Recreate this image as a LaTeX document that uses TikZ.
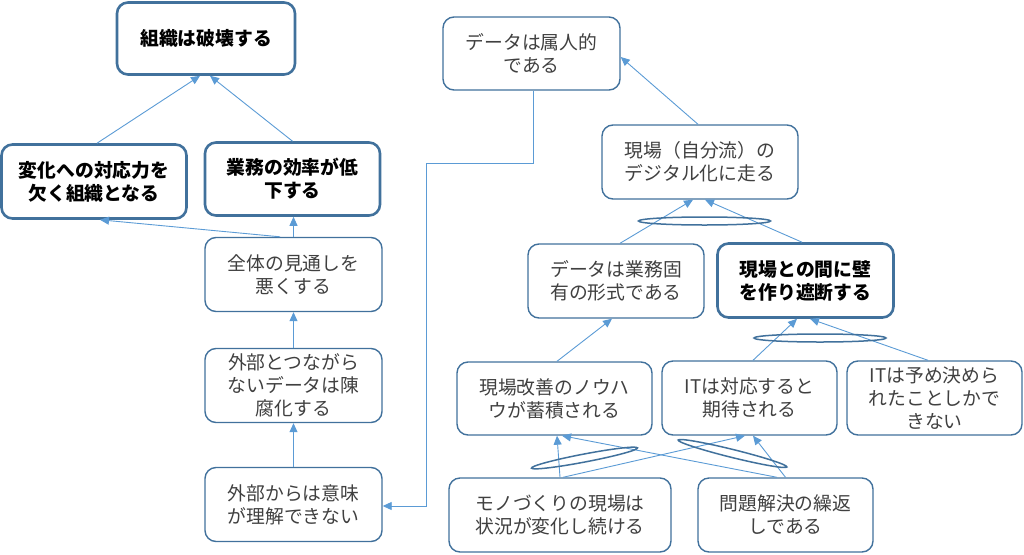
\documentclass[tikz,border=0pt]{standalone}
\usepackage{fontspec}
\setmainfont{Noto Sans CJK JP}
\usetikzlibrary{arrows.meta}
\definecolor{bord}{HTML}{41719C}
\definecolor{arr}{HTML}{5B9BD5}
\definecolor{txt}{HTML}{404040}
\begin{document}
\begin{tikzpicture}[x=1pt,y=-1pt,
  box/.style={draw=bord, line width=1.4pt, rounded corners=11pt, fill=white, align=center,
    text=txt, font=\fontsize{18.8}{23}\selectfont, inner sep=0pt},
  bbox/.style={box, line width=2.6pt, text=black, font=\fontsize{18.8}{23}\selectfont\bfseries},
  conn/.style={draw=arr, line width=0.9pt, -{Triangle[length=9pt,width=8pt]}},
  andell/.style={draw=bord, line width=1.5pt}]
\useasboundingbox (0,0) rectangle (1024,554);
\node[bbox, minimum width=178pt, minimum height=72pt] (n1) at (206,38.5) {組織は破壊する};
\node[bbox, minimum width=185pt, minimum height=74pt] (n2) at (94,181.5) {変化への対応力を\\欠く組織となる};
\node[bbox, minimum width=175pt, minimum height=73pt] (n3) at (292.5,179) {業務の効率が低\\下する};
\node[box, minimum width=177pt, minimum height=74pt] (n4) at (293.5,274.5) {全体の見通しを\\悪くする};
\node[box, minimum width=177pt, minimum height=74pt] (n5) at (293.5,385.5) {外部とつながら\\ないデータは陳\\腐化する};
\node[box, minimum width=177pt, minimum height=74pt] (n6) at (293.5,504.5) {外部からは意味\\が理解できない};
\node[box, minimum width=177pt, minimum height=73pt] (n7) at (531.5,53.5) {データは属人的\\である};
\node[box, minimum width=196pt, minimum height=74pt] (n8) at (700,162) {現場（自分流）の\\デジタル化に走る};
\node[box, minimum width=176pt, minimum height=74pt] (n9) at (616,281) {データは業務固\\有の形式である};
\node[bbox, minimum width=176pt, minimum height=74pt] (n10) at (805.5,280.5) {現場との間に壁\\を作り遮断する};
\node[box, minimum width=195pt, minimum height=73pt] (n11) at (554.5,398.5) {現場改善のノウハ\\ウが蓄積される};
\node[box, minimum width=175pt, minimum height=74pt] (n12) at (749.5,398) {ITは対応すると\\期待される};
\node[box, minimum width=175pt, minimum height=74pt] (n13) at (934.5,398) {ITは予め決めら\\れたことしかで\\きない};
\node[box, minimum width=222pt, minimum height=74pt] (n14) at (560,515) {モノづくりの現場は\\状況が変化し続ける};
\node[box, minimum width=175pt, minimum height=74pt] (n15) at (785.5,515) {問題解決の繰返\\しである};
\coordinate (b1) at (426,163);
% connectors
\draw[conn] ([xshift=3pt]n2.north) -- ([xshift=-6pt]n1.south);
\draw[conn] ([xshift=0pt]n3.north) -- ([xshift=4pt]n1.south);
\draw[conn] ([xshift=-13.5pt]n4.north) -- ([xshift=6pt]n2.south);
\draw[conn] (n4.north) -- (n4.north |- n3.south);
\draw[conn] (n5.north) -- (n4.south);
\draw[conn] (n6.north) -- (n5.south);
\draw[conn] ([xshift=1.5pt]n7.south) |- (b1) |- ([yshift=-1.5pt]n6.east);
\draw[conn] ([xshift=-2pt]n8.north) -- ([yshift=-3.5pt]n7.east);
\draw[conn] ([xshift=4pt]n9.north) -- ([xshift=-7pt]n8.south);
\draw[conn] ([xshift=-3.5pt]n10.north) -- ([xshift=5pt]n8.south);
\draw[conn] ([xshift=2.5pt]n11.north) -- ([xshift=-4pt]n9.south);
\draw[conn] ([xshift=3.5pt]n12.north) -- ([xshift=-8.5pt]n10.south);
\draw[conn] ([xshift=-6.5pt]n13.north) -- ([xshift=4.5pt]n10.south);
\draw[conn] (n14.north) -- ([xshift=2.5pt]n11.south);
\draw[conn] ([xshift=-8.5pt]n15.north) -- ([xshift=7.5pt]n11.south);
\draw[conn] ([xshift=3pt]n14.north) -- ([xshift=-4.5pt]n12.south);
\draw[conn] (n15.north) -- ([xshift=3.5pt]n12.south);
% AND ellipses
\draw[andell] (704.5,221) ellipse [x radius=66pt, y radius=4pt];
\draw[andell] (820,338) ellipse [x radius=66pt, y radius=4pt];
\draw[andell, rotate around={10.8:(584.5,458)}] (584.5,458) ellipse [x radius=54pt, y radius=4pt];
\draw[andell, rotate around={-13.9:(732.5,453.5)}] (732.5,453.5) ellipse [x radius=56pt, y radius=4pt];
\end{tikzpicture}
\end{document}
